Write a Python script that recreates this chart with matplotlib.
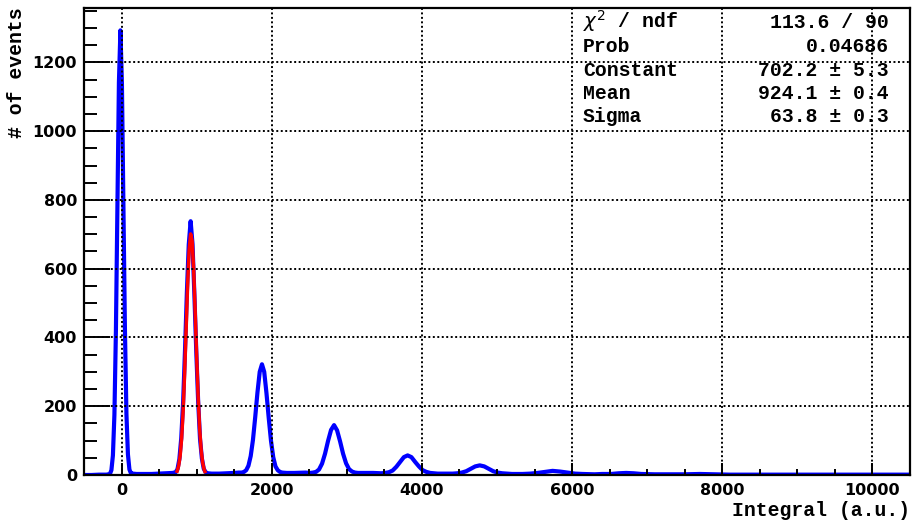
import matplotlib

matplotlib.use("Agg")
import matplotlib.pyplot as plt
from matplotlib.ticker import MultipleLocator

# histogram (bin centre, counts)
bin_x = [
    -500, -400, -300, -200, -155, -135, -115, -95, -75, -55, -35, -15,
    5, 25, 45, 65, 85, 105, 125, 150, 200, 300, 400, 500, 600, 680,
    720, 745, 770, 795, 820, 845, 870, 895, 920, 945, 970, 995, 1020,
    1045, 1070, 1095, 1120, 1150, 1200, 1300, 1400, 1500, 1560,
    1600, 1630, 1660, 1690, 1720, 1750, 1780, 1810, 1840, 1870, 1900,
    1930, 1960, 1990, 2020, 2050, 2080, 2110, 2140, 2200, 2300, 2450,
    2510, 2550, 2590, 2630, 2670, 2710, 2750, 2790, 2830, 2870, 2910,
    2950, 2990, 3030, 3070, 3110, 3150, 3200, 3350,
    3460, 3510, 3560, 3610, 3660, 3710, 3760, 3810, 3860, 3910, 3960,
    4010, 4060, 4110, 4160, 4210, 4300,
    4410, 4470, 4530, 4590, 4650, 4710, 4770, 4830, 4890, 4950, 5010,
    5070, 5130, 5200, 5300,
    5340, 5440, 5540, 5640, 5740, 5840, 5940, 6040, 6140, 6300, 6400,
    6520, 6620, 6720, 6820, 6920, 7100, 7300, 7500, 7700, 7900, 8100,
    8400, 8800, 9200, 9600, 10000, 10500,
]
counts = [
    0, 0, 1, 1, 3, 14, 57, 175, 420, 786, 1142, 1293,
    1138, 780, 425, 178, 60, 16, 5, 4, 3, 3, 3, 4, 5, 6,
    8, 17, 46, 107, 212, 362, 531, 670, 738, 672, 525, 360, 215,
    105, 48, 18, 8, 5, 4, 4, 5, 6, 7,
    7, 9, 14, 27, 55, 102, 168, 240, 300, 322, 300,
    238, 166, 100, 52, 25, 14, 9, 7, 6, 6, 7,
    6, 7, 9, 16, 33, 62, 99, 131, 145, 130, 98,
    62, 34, 17, 10, 7, 6, 6, 6,
    5, 6, 8, 13, 24, 38, 52, 57, 52, 38, 25,
    14, 9, 6, 5, 4, 4,
    4, 5, 7, 11, 18, 25, 28, 25, 18, 11, 7,
    5, 4, 3, 3,
    3, 4, 6, 9, 12, 10, 7, 4, 3, 2, 3,
    3, 5, 6, 5, 3, 2, 2, 2, 3, 2, 1,
    1, 1, 1, 1, 1, 1,
]

# gaussian fit curve, as drawn in red
fit_x = [740, 760, 780, 800, 820, 840, 860, 880, 900, 920, 940, 960,
         980, 1000, 1020, 1040, 1060, 1080, 1100, 1110]
fit_y = [11, 26, 55, 106, 186, 295, 424, 553, 654, 701, 681, 599,
         478, 346, 227, 135, 73, 36, 16, 10]

stat_names = [r"$\chi^{2}$ / ndf", "Prob", "Constant", "Mean", "Sigma"]
stat_values = ["113.6 / 90", "0.04686", "702.2 ± 5.3", "924.1 ± 0.4", "63.8 ± 0.3"]

W, H = 914, 522
fig = plt.figure(figsize=(W / 100, H / 100), dpi=100)
ax = fig.add_axes([84 / W, 1 - 475 / H, (910 - 84) / W, (475 - 8) / H])

ax.plot(bin_x, counts, color="blue", lw=3.0, zorder=2)
ax.plot(fit_x, fit_y, color="red", lw=2.5, zorder=2.2)

ax.set_xlim(-500, 10500)
ax.set_ylim(0, 1358)
ax.xaxis.set_major_locator(MultipleLocator(2000))
ax.xaxis.set_minor_locator(MultipleLocator(500))
ax.yaxis.set_major_locator(MultipleLocator(200))
ax.yaxis.set_minor_locator(MultipleLocator(50))

ax.set_axisbelow(False)
ax.grid(True, which="major", color="black", lw=1.4, linestyle=(0, (1, 1.3)))

ax.tick_params(axis="both", which="both", direction="in", top=False, right=False,
               width=1.4, colors="black")
ax.tick_params(axis="y", which="major", length=18.5, pad=5)
ax.tick_params(axis="y", which="minor", length=9.3)
ax.tick_params(axis="x", which="major", length=8.6, pad=6)
ax.tick_params(axis="x", which="minor", length=4.3)
for lab in ax.get_xticklabels() + ax.get_yticklabels():
    lab.set_fontfamily("DejaVu Sans")
    lab.set_fontweight("bold")
    lab.set_fontsize(11.5)

for sp in ax.spines.values():
    sp.set_linewidth(1.6)

mono = dict(family="Liberation Mono", fontweight="bold", fontsize=14.2)

fig.text(17 / W, 1 - 7 / H, "# of events", rotation=90, ha="center", va="top", **mono)
fig.text(910 / W, 1 - 510 / H, "Integral (a.u.)", ha="right", va="center", **mono)

row_base = [28, 52, 76, 99.5, 121.5]
for name, val, yb in zip(stat_names, stat_values, row_base):
    fig.text(583 / W, 1 - yb / H, name, ha="left", va="baseline", **mono)
    fig.text(889 / W, 1 - yb / H, val, ha="right", va="baseline", **mono)

fig.savefig("out.png", dpi=100)
